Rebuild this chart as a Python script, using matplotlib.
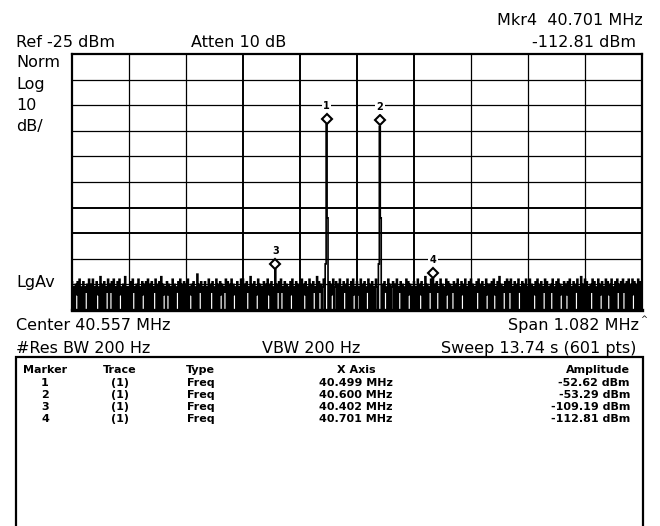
import numpy as np
import matplotlib
matplotlib.use("Agg")
import matplotlib.pyplot as plt
import matplotlib.transforms as mtransforms
from matplotlib.patches import Rectangle

plt.rcParams["path.simplify"] = False

# analyzer settings
center_mhz = 40.557
span_mhz = 1.082
ref_dbm = -25
db_per_div = 10
n_div = 10

# trace (601 sweep points, dBm); -130 is below the screen bottom
trace_dbm = [
    -114, -130, -116, -130, -115, -119, -114, -130, -113, -130, -116, -130, -114, -130, -116, -118, -115, -130, -113, -130,
    -115, -130, -113, -130, -116, -130, -114, -119, -116, -130, -112, -130, -115, -130, -114, -130, -116, -118, -113, -130,
    -115, -118, -114, -130, -113, -130, -116, -130, -114, -130, -113, -119, -116, -130, -115, -130, -112, -130, -116, -130,
    -116, -130, -114, -130, -113, -118, -116, -130, -115, -130, -113, -130, -116, -130, -114, -119, -115, -130, -114, -130,
    -113, -130, -115, -130, -114, -130, -116, -118, -113, -130, -115, -130, -114, -130, -112, -130, -115, -119, -116, -130,
    -114, -119, -115, -130, -116, -130, -113, -130, -115, -130, -116, -118, -114, -130, -113, -130, -115, -130, -114, -130,
    -115, -130, -113, -130, -116, -119, -115, -130, -114, -130, -116, -130, -111, -130, -115, -118, -114, -130, -116, -130,
    -114, -130, -116, -130, -113, -130, -115, -118, -114, -130, -116, -130, -113, -130, -115, -130, -114, -119, -115, -130,
    -116, -118, -113, -130, -114, -130, -115, -130, -113, -130, -115, -119, -116, -130, -114, -130, -116, -130, -113, -130,
    -113, -130, -115, -130, -114, -118, -116, -130, -112, -130, -115, -130, -114, -130, -116, -119, -113, -130, -115, -130,
    -116, -130, -114, -130, -115, -130, -113, -119, -115, -130, -114, -130, -116, -130, -109.19, -130, -115, -118, -114, -130,
    -113, -118, -116, -130, -114, -130, -115, -130, -116, -130, -114, -119, -113, -130, -116, -130, -114, -130, -115, -130,
    -116, -130, -113, -130, -115, -119, -114, -130, -116, -130, -113, -130, -115, -130, -114, -118, -116, -130, -112, -130,
    -114, -118, -115, -130, -116, -113, -130, -107, -52.62, -89, -130, -114, -130, -115, -119, -113, -130, -116, -114, -130,
    -115, -130, -113, -130, -116, -130, -114, -118, -115, -130, -113, -130, -116, -130, -114, -130, -113, -119, -116, -130,
    -114, -119, -116, -130, -113, -130, -115, -130, -114, -130, -116, -118, -113, -130, -115, -130, -114, -130, -116, -130,
    -113, -116, -130, -107, -53.29, -89, -130, -115, -130, -114, -118, -116, -130, -113, -130, -115, -130, -116, -114, -130,
    -115, -130, -113, -130, -116, -118, -114, -130, -115, -130, -116, -130, -113, -130, -114, -119, -115, -130, -116, -130,
    -114, -130, -116, -130, -113, -130, -115, -119, -114, -130, -116, -130, -112, -130, -115, -130, -116, -118, -113, -130,
    -112.81, -130, -115, -130, -114, -118, -116, -130, -113, -130, -115, -130, -116, -130, -113, -119, -114, -130, -115, -130,
    -116, -118, -114, -130, -115, -130, -113, -130, -116, -130, -114, -119, -115, -130, -113, -130, -116, -130, -114, -130,
    -113, -130, -115, -130, -116, -130, -114, -118, -113, -130, -115, -130, -114, -130, -116, -130, -113, -119, -115, -130,
    -115, -130, -114, -130, -113, -119, -116, -130, -114, -130, -112, -130, -115, -130, -116, -118, -114, -130, -113, -130,
    -114, -118, -113, -130, -116, -130, -114, -130, -115, -130, -113, -118, -116, -130, -114, -130, -115, -130, -113, -130,
    -116, -130, -113, -130, -115, -130, -116, -119, -114, -130, -113, -130, -115, -130, -114, -130, -116, -118, -113, -130,
    -114, -130, -116, -130, -115, -118, -113, -130, -116, -130, -114, -130, -113, -130, -115, -119, -116, -130, -114, -130,
    -115, -119, -114, -130, -113, -130, -116, -130, -114, -130, -115, -118, -113, -130, -116, -130, -112, -130, -115, -130,
    -113, -130, -114, -130, -116, -130, -115, -118, -113, -130, -114, -130, -116, -130, -113, -130, -115, -119, -114, -130,
    -116, -130, -113, -130, -114, -119, -115, -130, -113, -130, -116, -130, -114, -130, -113, -118, -115, -130, -114, -130,
    -113, -118, -115, -130, -114, -130, -113, -130, -115, -130, -113, -119, -114, -130, -115, -130, -113, -130, -114, -130,
    -114,
]

# marker table
marker_ids = ["1", "2", "3", "4"]
marker_index = [268, 324, 214, 380]
marker_trace = ["(1)", "(1)", "(1)", "(1)"]
marker_type = ["Freq", "Freq", "Freq", "Freq"]
marker_x = ["40.499 MHz", "40.600 MHz", "40.402 MHz", "40.701 MHz"]
marker_amp = ["-52.62 dBm", "-53.29 dBm", "-109.19 dBm", "-112.81 dBm"]

W, H = 660, 526
FONT = "DejaVu Sans"


def fx(x):
    return x / W


def fy(y):
    return 1 - y / H


start = center_mhz - span_mhz / 2
stop = center_mhz + span_mhz / 2
freqs = np.linspace(start, stop, len(trace_dbm))
bottom = ref_dbm - db_per_div * n_div

fig = plt.figure(figsize=(W / 100, H / 100), dpi=100)
ax = fig.add_axes([fx(72), fy(310), fx(642) - fx(72), fy(54) - fy(310)])
ax.set_xlim(start, stop)
ax.set_ylim(bottom, ref_dbm)
ax.set_xticks([])
ax.set_yticks([])

# graticule
xg = np.linspace(start, stop, n_div + 1)
yg = np.linspace(bottom, ref_dbm, n_div + 1)
for i, v in enumerate(xg[1:-1], 1):
    ax.axvline(v, color="black", lw=1.4 if i in (3, 4, 5, 6) else 0.9, zorder=1)
for i, v in enumerate(yg[1:-1], 1):
    ax.axhline(v, color="black", lw=1.4 if i in (3, 4) else 0.9, zorder=1)
for side, lw in [("top", 1.6), ("left", 1.6), ("right", 1.6), ("bottom", 2.4)]:
    ax.spines[side].set_linewidth(lw)
    ax.spines[side].set_zorder(5)

ax.plot(freqs, trace_dbm, color="black", lw=1.2, drawstyle="steps-mid",
        solid_joinstyle="miter", zorder=3)

# markers
dia = mtransforms.offset_copy(ax.transData, fig=fig, x=0, y=6, units="dots")
lab = mtransforms.offset_copy(ax.transData, fig=fig, x=0, y=19, units="dots")
for mid, idx in zip(marker_ids, marker_index):
    ax.plot(freqs[idx], trace_dbm[idx], marker="D", ms=5, mfc="white", mec="black",
            mew=1.5, transform=dia, zorder=4)
    ax.text(freqs[idx], trace_dbm[idx], mid, transform=lab, ha="center", va="center",
            fontsize=7, fontweight="bold", family=FONT, zorder=4,
            bbox=dict(boxstyle="square,pad=0.15", fc="white", ec="none"))

# annotations around the screen
big = dict(fontsize=11.5, family=FONT, va="baseline")
fig.text(fx(643), fy(25), "Mkr4  40.701 MHz", ha="right", **big)
fig.text(fx(636), fy(47), "-112.81 dBm", ha="right", **big)
fig.text(fx(16), fy(47), "Ref -25 dBm", ha="left", **big)
fig.text(fx(191), fy(47), "Atten 10 dB", ha="left", **big)
for s, y in zip(["Norm", "Log", "10", "dB/"], [67, 89, 110, 131]):
    fig.text(fx(16), fy(y), s, ha="left", **big)
fig.text(fx(16), fy(287), "LgAv", ha="left", **big)
fig.text(fx(16), fy(330), "Center 40.557 MHz", ha="left", **big)
fig.text(fx(639), fy(330), "Span 1.082 MHz", ha="right", **big)
fig.text(fx(640), fy(322), "^", ha="left", fontsize=6, family=FONT, va="baseline")
fig.text(fx(16), fy(353), "#Res BW 200 Hz", ha="left", **big)
fig.text(fx(262), fy(353), "VBW 200 Hz", ha="left", **big)
fig.text(fx(636), fy(353), "Sweep 13.74 s (601 pts)", ha="right", **big)

# marker table
fig.add_artist(Rectangle((fx(16), -0.05), fx(643) - fx(16), fy(357) + 0.05,
                         transform=fig.transFigure, fill=False, ec="black", lw=1.6))
small = dict(fontsize=8, family=FONT, fontweight="bold", va="baseline")
fig.text(fx(45), fy(373), "Marker", ha="center", **small)
fig.text(fx(120), fy(373), "Trace", ha="center", **small)
fig.text(fx(186), fy(373), "Type", ha="left", **small)
fig.text(fx(356), fy(373), "X Axis", ha="center", **small)
fig.text(fx(630), fy(373), "Amplitude", ha="right", **small)
for k in range(len(marker_ids)):
    y = 386 + 12 * k
    fig.text(fx(45), fy(y), marker_ids[k], ha="center", **small)
    fig.text(fx(120), fy(y), marker_trace[k], ha="center", **small)
    fig.text(fx(187), fy(y), marker_type[k], ha="left", **small)
    fig.text(fx(356), fy(y), marker_x[k], ha="center", **small)
    fig.text(fx(630), fy(y), marker_amp[k], ha="right", **small)

fig.savefig("out.png", dpi=100, facecolor="white")
